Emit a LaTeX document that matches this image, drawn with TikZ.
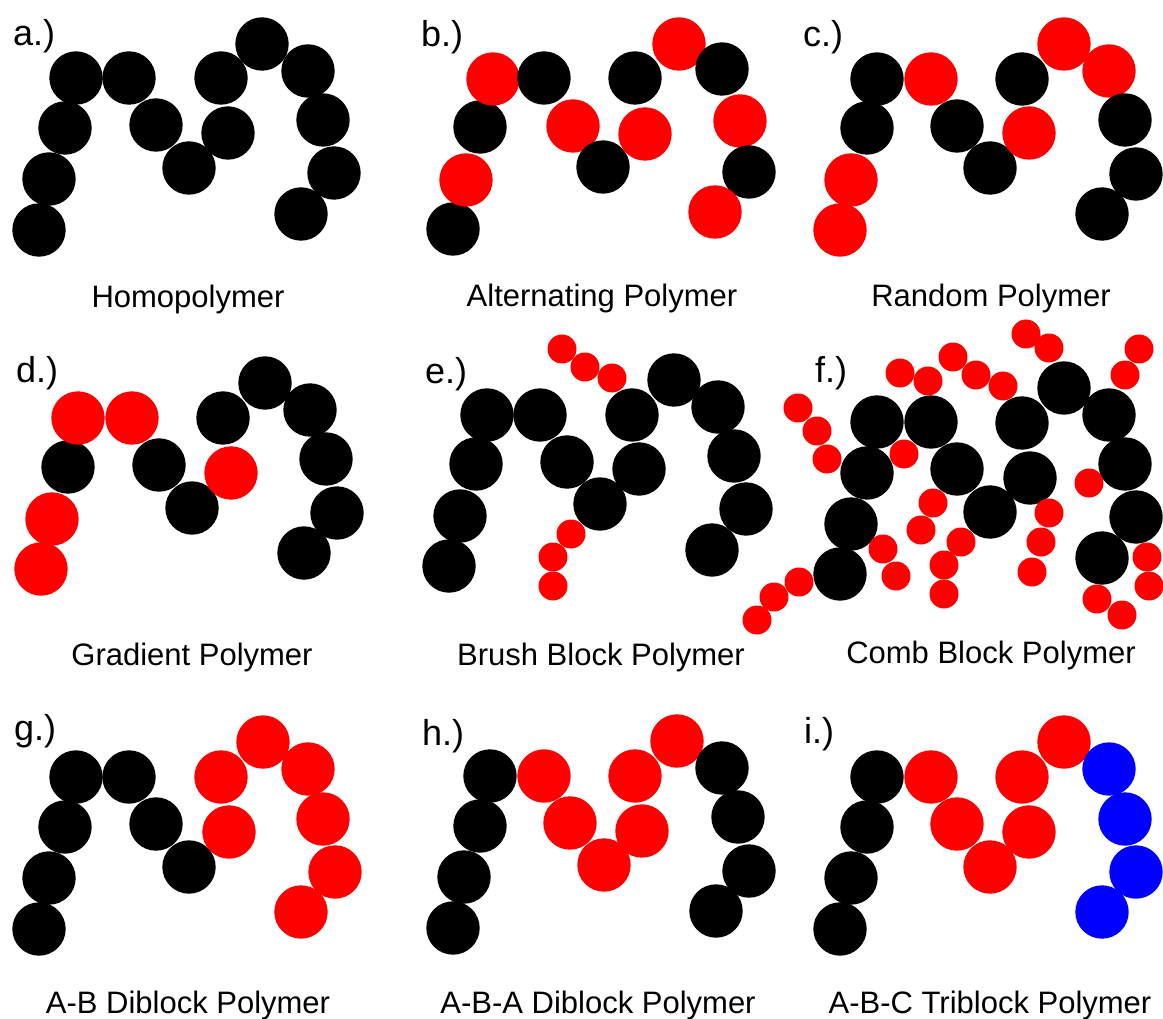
\documentclass[tikz,border=0pt]{standalone}
\usepackage{fontspec}
\setmainfont{Liberation Sans}
\definecolor{pr}{RGB}{255,0,0}
\definecolor{pb}{RGB}{0,0,255}
\definecolor{pk}{RGB}{0,0,0}
\begin{document}
\begin{tikzpicture}[x=1pt,y=-1pt,
  paneltag/.style={anchor=base west,inner sep=0pt,font=\fontsize{36}{42}\selectfont},
  captxt/.style={anchor=base,inner sep=0pt,font=\fontsize{31}{37}\selectfont}]
\useasboundingbox (0,0) rectangle (1163,1019);
\fill[white] (0,0) rectangle (1163,1019);
\def\R{26.7}
\def\r{14.5}
% a
\foreach \x/\y/\c in {39/230/pk,49/179/pk,65/128/pk,76/78/pk,129/78/pk,156/125/pk,189/168/pk,228/133/pk,221/78/pk,262/44/pk,308/71/pk,323/120/pk,334/173/pk,301/214/pk}
  \fill[\c] (\x,\y) circle[radius=\R];
% b
\foreach \x/\y/\c in {453/229/pk,466/180/pr,480/127/pk,493/79/pr,544/78/pk,573/126/pr,603/167/pk,645/134/pr,635/78/pk,679/44/pr,722/69/pk,740/121/pr,749/172/pk,715/212/pr}
  \fill[\c] (\x,\y) circle[radius=\R];
% c
\foreach \x/\y/\c in {840/230/pr,851/180/pr,867/128/pk,877/79/pk,931/79/pr,957/126/pk,990/168/pk,1029/133/pr,1022/79/pk,1064/44/pr,1109/71/pr,1125/120/pk,1136/174/pk,1102/214/pk}
  \fill[\c] (\x,\y) circle[radius=\R];
% d
\foreach \x/\y/\c in {41/569/pr,52/519/pr,68/467/pk,78/418/pr,132/418/pr,159/465/pk,192/508/pk,231/473/pr,223/418/pk,265/383/pk,310/410/pk,326/459/pk,337/513/pk,304/553/pk}
  \fill[\c] (\x,\y) circle[radius=\R];
% e
\foreach \x/\y in {449/566,460/516,476/464,487/415,540/415,567/462,600/504,639/469,632/415,674/380,718/407,734/456,746/509,712/550}
  \fill[pk] (\x,\y) circle[radius=\R];
\foreach \x/\y in {562/349,585/367,612/378,571/534,553/557,553/586}
  \fill[pr] (\x,\y) circle[radius=\r];
% f
\foreach \x/\y in {840/574,851/524,867/473,877/422,931/422,957/469,990/512,1030/478,1022/423,1064/388,1109/415,1125/464,1136/517,1102/558}
  \fill[pk] (\x,\y) circle[radius=\R];
\foreach \x/\y in {798/408,817/431,827/459,904/454,900/373,928/381,953/357,976/375,1003/386,1026/334,1049/348,1139/349,1125/375,1089/483,933/503,921/530,961/542,944/565,944/594,883/549,896/576,799/582,774/597,757/620,1049/513,1041/542,1032/572,1147/557,1149/586,1097/599,1122/615}
  \fill[pr] (\x,\y) circle[radius=\r];
% g
\foreach \x/\y/\c in {39/929/pk,49/878/pk,65/827/pk,76/777/pk,129/777/pk,156/824/pk,189/867/pk,229/832/pr,221/777/pr,263/742/pr,308/769/pr,323/819/pr,335/872/pr,301/912/pr}
  \fill[\c] (\x,\y) circle[radius=\R];
% h
\foreach \x/\y/\c in {453/928/pk,464/877/pk,480/826/pk,490/776/pk,544/776/pr,570/823/pr,604/865/pr,642/831/pr,635/776/pr,677/741/pr,722/768/pk,738/817/pk,749/871/pk,716/911/pk}
  \fill[\c] (\x,\y) circle[radius=\R];
% i
\foreach \x/\y/\c in {840/929/pk,851/878/pk,867/827/pk,877/777/pk,931/777/pr,957/824/pr,990/867/pr,1029/832/pr,1022/777/pr,1064/742/pr,1109/769/pb,1125/819/pb,1136/872/pb,1102/912/pb}
  \fill[\c] (\x,\y) circle[radius=\R];
% panel tags
\node[paneltag] (la) at (13,46) {a.)};
\node[paneltag] (lb) at (421,47) {b.)};
\node[paneltag] (lc) at (803,47) {c.)};
\node[paneltag] (ld) at (16,382) {d.)};
\node[paneltag] (le) at (425,383) {e.)};
\node[paneltag] (lf) at (815,382) {f.)};
\node[paneltag] (lg) at (14,740) {g.)};
\node[paneltag] (lh) at (422,745) {h.)};
\node[paneltag] (li) at (804,743) {i.)};
% captions
\node[captxt] (ca) at (188,308) {Homopolymer};
\node[captxt] (cb) at (602,307) {Alternating Polymer};
\node[captxt] (cc) at (991,307) {Random Polymer};
\node[captxt] (cd) at (192,665) {Gradient Polymer};
\node[captxt] (ce) at (601,665) {Brush Block Polymer};
\node[captxt] (cf) at (991,663) {Comb Block Polymer};
\node[captxt] (cg) at (188,1013) {A-B Diblock Polymer};
\node[captxt] (ch) at (598,1013) {A-B-A Diblock Polymer};
\node[captxt] (ci) at (990,1013) {A-B-C Triblock Polymer};
\end{tikzpicture}
\end{document}
